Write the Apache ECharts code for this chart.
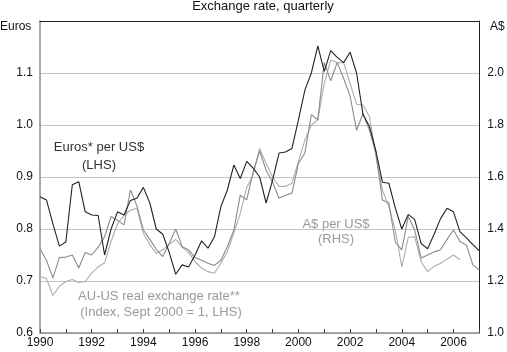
<!DOCTYPE html>
<html>
<head>
<meta charset="utf-8">
<script src="https://cdn.jsdelivr.net/npm/echarts@6/dist/echarts.min.js"></script>
<style>
  html, body { margin: 0; padding: 0; background: #fff; }
  #chart { width: 507px; height: 352px; }
</style>
</head>
<body>
<div id="chart"></div>
<script>
// quarterly, 1990 Q1 .. 2007 Q1
var firstYear = 1990
var lastYear = 2007
var quarters = []
for (var y = firstYear; y <= lastYear; y++) {
  for (var q = 1; q <= 4; q++) {
    if (y === lastYear && q > 1) break
    quarters.push(y + '-Q' + q)
  }
}

// Euros per US$ (LHS)
var euros = [
  0.862, 0.856, 0.81, 0.767, 0.775, 0.885, 0.891, 0.833, 0.827, 0.826,
  0.75, 0.80, 0.833, 0.827, 0.855, 0.859, 0.88, 0.85, 0.80, 0.79,
  0.755, 0.713, 0.731, 0.727, 0.75, 0.777, 0.763, 0.785, 0.843, 0.875,
  0.923, 0.897, 0.93, 0.917, 0.90, 0.85, 0.894, 0.946, 0.948, 0.955,
  1.01, 1.067, 1.10, 1.152, 1.103, 1.143, 1.13, 1.12, 1.14, 1.10,
  1.02, 0.997, 0.95, 0.89, 0.888, 0.84, 0.80, 0.828, 0.818, 0.772,
  0.762, 0.79, 0.82, 0.84, 0.833, 0.795, 0.783, 0.77, 0.758
]

// A$ per US$ (RHS)
var aud = [
  1.324, 1.28, 1.212, 1.29, 1.292, 1.30, 1.25, 1.31, 1.30, 1.33,
  1.37, 1.448, 1.434, 1.416, 1.55, 1.49, 1.396, 1.36, 1.322, 1.294,
  1.344, 1.40, 1.332, 1.32, 1.29, 1.28, 1.268, 1.26, 1.28, 1.332,
  1.396, 1.53, 1.512, 1.62, 1.70, 1.626, 1.58, 1.518, 1.53, 1.538,
  1.652, 1.692, 1.84, 1.82, 2.04, 1.97, 2.04, 1.98, 1.91, 1.78,
  1.844, 1.78, 1.69, 1.512, 1.50, 1.35, 1.32, 1.448, 1.396, 1.288,
  1.30, 1.312, 1.32, 1.36, 1.396, 1.352, 1.338, 1.262, 1.242
]

// AU-US real exchange rate, index Sept 2000 = 1 (LHS)
var realRate = [
  0.708, 0.705, 0.672, 0.69, 0.699, 0.703, 0.697, 0.699, 0.715, 0.727,
  0.735, 0.776, 0.81, 0.826, 0.836, 0.84, 0.792, 0.77, 0.753, 0.76,
  0.77, 0.78, 0.765, 0.755, 0.737, 0.725, 0.718, 0.715, 0.734, 0.756,
  0.792, 0.83, 0.88, 0.905, 0.955, 0.926, 0.90, 0.882, 0.882, 0.888,
  0.93, 0.971, 1.0, 1.01, 1.08, 1.125, 1.12, 1.12, 1.08, 1.04,
  1.038, 1.016, 0.94, 0.875, 0.843, 0.798, 0.727, 0.784, 0.785, 0.737,
  0.718, 0.728, 0.734, 0.742, 0.75, 0.741
]

var font = 'Liberation Sans, Arial, Helvetica, sans-serif'
var chart = echarts.init(document.getElementById('chart'), null, { renderer: 'canvas' })

var option = {
  animation: false,
  backgroundColor: '#fff',
  textStyle: { fontFamily: font },
  grid: { left: 40, right: 25, top: 21, bottom: 19 },
  xAxis: [
    {
      type: 'category',
      data: quarters,
      boundaryGap: false,
      position: 'bottom',
      axisLine: { lineStyle: { color: '#8c8c8c', width: 1.5 } },
      axisTick: { inside: true, length: 4, interval: 3, lineStyle: { color: '#444' } },
      axisLabel: {
        interval: 7,
        margin: 4,
        fontSize: 12,
        color: '#111',
        fontFamily: font,
        formatter: function (v) { return v.slice(0, 4) }
      },
      splitLine: { show: false }
    },
    {
      type: 'category',
      data: quarters,
      boundaryGap: false,
      position: 'top',
      axisLine: { lineStyle: { color: '#222', width: 1 } },
      axisTick: { show: false },
      axisLabel: { show: false },
      splitLine: { show: false }
    }
  ],
  yAxis: [
    {
      type: 'value',
      min: 0.6,
      max: 1.2,
      interval: 0.1,
      position: 'left',
      axisLine: { show: true, lineStyle: { color: '#8c8c8c', width: 1.5 } },
      axisTick: { show: false },
      axisLabel: {
        margin: 7,
        fontSize: 12,
        color: '#111',
        fontFamily: font,
        formatter: function (v) { return v > 1.15 ? '' : v.toFixed(1) }
      },
      splitLine: { lineStyle: { color: '#c4c4c4', width: 1 } }
    },
    {
      type: 'value',
      min: 1.0,
      max: 2.2,
      interval: 0.2,
      position: 'right',
      axisLine: { show: true, lineStyle: { color: '#222', width: 1 } },
      axisTick: { show: false },
      axisLabel: {
        margin: 8,
        fontSize: 12,
        color: '#111',
        fontFamily: font,
        formatter: function (v) { return v > 2.1 ? '' : v.toFixed(1) }
      },
      splitLine: { show: false }
    }
  ],
  series: [
    {
      name: 'AU-US real exchange rate',
      type: 'line',
      yAxisIndex: 0,
      data: realRate,
      showSymbol: false,
      lineStyle: { color: '#adadad', width: 1.1 },
      itemStyle: { color: '#adadad' }
    },
    {
      name: 'A$ per US$',
      type: 'line',
      yAxisIndex: 1,
      data: aud,
      showSymbol: false,
      lineStyle: { color: '#8a8a8a', width: 1.1 },
      itemStyle: { color: '#8a8a8a' }
    },
    {
      name: 'Euros per US$',
      type: 'line',
      yAxisIndex: 0,
      data: euros,
      showSymbol: false,
      lineStyle: { color: '#222', width: 1.1 },
      itemStyle: { color: '#222' }
    }
  ],
  graphic: [
    { type: 'text', x: 263, y: 6, style: { text: 'Exchange rate, quarterly', font: '13px ' + font, fill: '#111', textAlign: 'center', textVerticalAlign: 'middle' } },
    { type: 'text', x: 0, y: 27, style: { text: 'Euros', font: '12px ' + font, fill: '#111', textAlign: 'left', textVerticalAlign: 'middle' } },
    { type: 'text', x: 490, y: 27, style: { text: 'A$', font: '12px ' + font, fill: '#111', textAlign: 'left', textVerticalAlign: 'middle' } },
    { type: 'text', x: 99, y: 147, style: { text: 'Euros* per US$', font: '13px ' + font, fill: '#333', textAlign: 'center', textVerticalAlign: 'middle' } },
    { type: 'text', x: 99, y: 165, style: { text: '(LHS)', font: '13px ' + font, fill: '#333', textAlign: 'center', textVerticalAlign: 'middle' } },
    { type: 'text', x: 336, y: 224, style: { text: 'A$ per US$', font: '13px ' + font, fill: '#9a9a9a', textAlign: 'center', textVerticalAlign: 'middle' } },
    { type: 'text', x: 336, y: 239, style: { text: '(RHS)', font: '13px ' + font, fill: '#9a9a9a', textAlign: 'center', textVerticalAlign: 'middle' } },
    { type: 'text', x: 159, y: 296, style: { text: 'AU-US real exchange rate**', font: '13px ' + font, fill: '#9a9a9a', textAlign: 'center', textVerticalAlign: 'middle' } },
    { type: 'text', x: 161, y: 312, style: { text: '(Index, Sept 2000 = 1, LHS)', font: '13px ' + font, fill: '#9a9a9a', textAlign: 'center', textVerticalAlign: 'middle' } }
  ]
}

chart.setOption(option)
</script>
</body>
</html>
